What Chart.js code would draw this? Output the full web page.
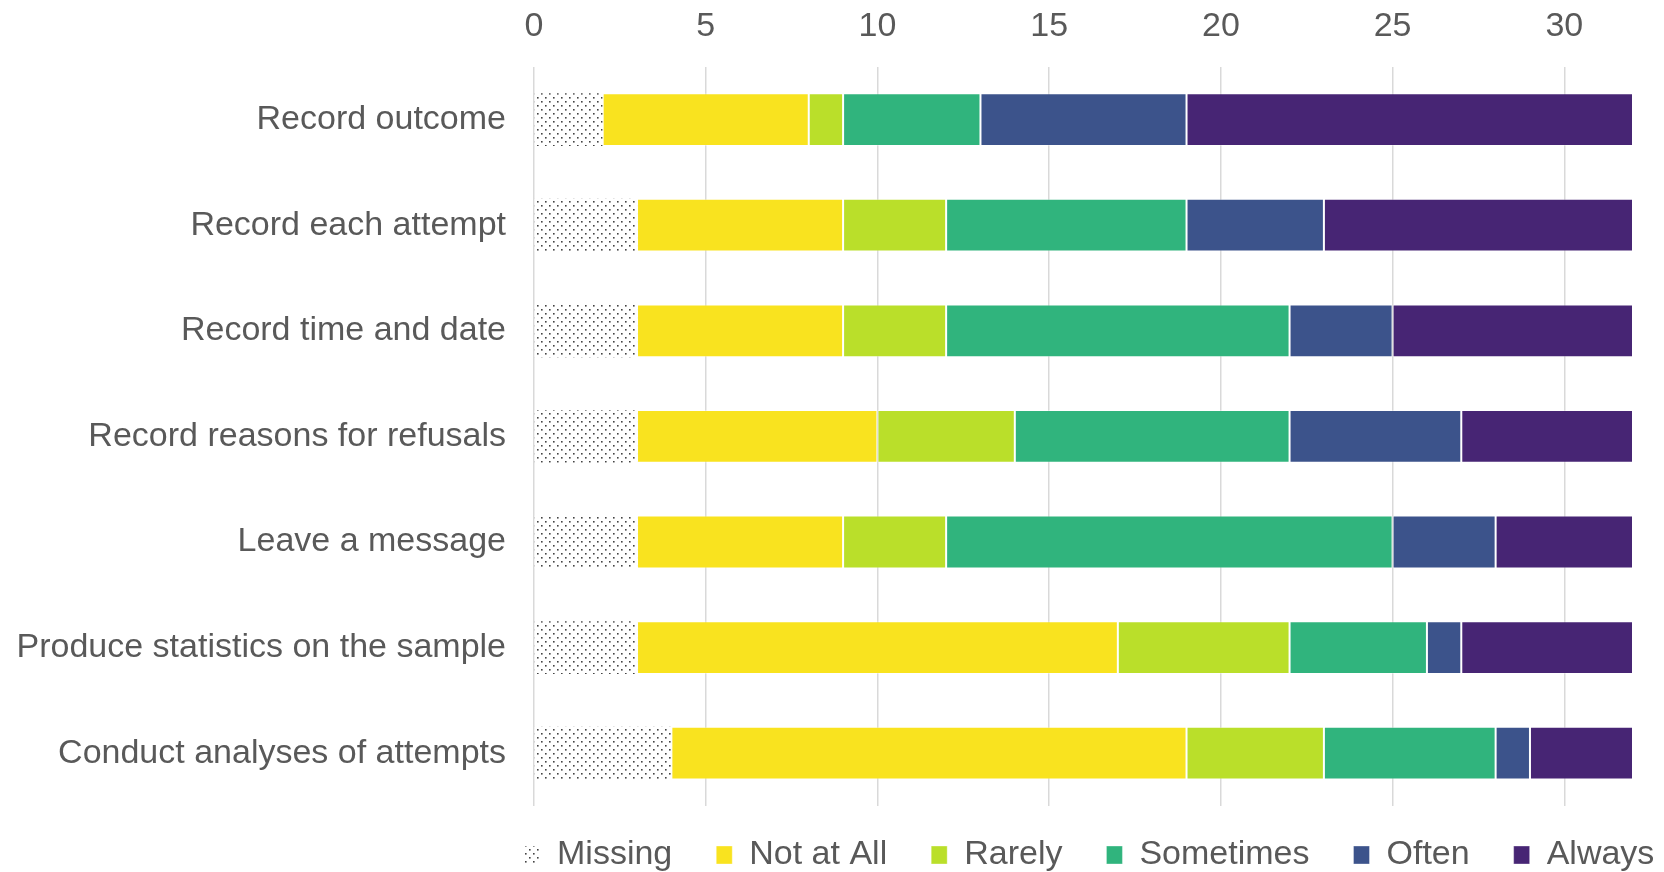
<!doctype html>
<html lang="en">
  <head>
    <meta charset="UTF-8" />
    <title>Call attempt recording</title>
    <script src="https://cdn.jsdelivr.net/npm/chart.js"></script>
    <style>
      body { margin: 0; background: #fff; }
    </style>
  </head>
  <body>
    <canvas id="myChart" width="1664" height="872"></canvas>
    <script>
      const categories = [
        'Record outcome',
        'Record each attempt',
        'Record time and date',
        'Record reasons for refusals',
        'Leave a message',
        'Produce statistics on the sample',
        'Conduct analyses of attempts'
      ]
      const missing = [2, 3, 3, 3, 3, 3, 4]
      const notAtAll = [6, 6, 6, 7, 6, 14, 15]
      const rarely = [1, 3, 3, 4, 3, 5, 4]
      const sometimes = [4, 7, 10, 8, 13, 4, 5]
      const often = [6, 4, 3, 5, 3, 1, 1]
      const always = [13, 9, 7, 5, 4, 5, 3]
      const xTicks = [0, 5, 10, 15, 20, 25, 30]

      const textColor = '#595959'
      const fontFamily = '"Liberation Sans", Arial, sans-serif'
      const fontSize = 34

      const ctx = document.getElementById('myChart').getContext('2d')

      // dotted fill for the "Missing" segment
      const makeDots = () => {
        const c = document.createElement('canvas')
        c.width = 8
        c.height = 8
        const g = c.getContext('2d')
        g.fillStyle = '#fff'
        g.fillRect(0, 0, 8, 8)
        g.fillStyle = '#444'
        g.fillRect(1, 1, 1.6, 1.6)
        g.fillRect(5, 5, 1.6, 1.6)
        return ctx.createPattern(c, 'repeat')
      }
      const dots = makeDots()

      const series = (label, data, color) => ({
        label,
        data,
        backgroundColor: color,
        borderColor: 'rgba(255,255,255,0.35)',
        borderWidth: 1,
        borderSkipped: false
      })

      // put the legend row just under the bars, starting near the plot's left edge
      const legendPlacer = {
        id: 'legendPlacer',
        afterLayout(chart) {
          const lg = chart.legend
          const pad = lg.options.labels.padding
          lg.left = chart.chartArea.left - 10 - pad
          lg.right = chart.width + 200
          lg.width = lg.right - lg.left
          lg.top = chart.chartArea.bottom + 32 - pad
          lg.bottom = chart.height
          lg.height = lg.bottom - lg.top
        }
      }

      const myChart = new Chart(ctx, {
        type: 'bar',
        data: {
          labels: categories,
          datasets: [
            { ...series('Missing', missing, dots), borderWidth: 0 },
            series('Not at All', notAtAll, '#F9E31F'),
            series('Rarely', rarely, '#BADF2A'),
            series('Sometimes', sometimes, '#30B47D'),
            series('Often', often, '#3C538B'),
            series('Always', always, '#472574')
          ]
        },
        plugins: [legendPlacer],
        options: {
          indexAxis: 'y',
          responsive: false,
          animation: false,
          layout: { padding: { left: 15, right: 31, top: 2, bottom: 26 } },
          datasets: { bar: { barPercentage: 0.5, categoryPercentage: 1 } },
          plugins: {
            tooltip: { enabled: false },
            legend: {
              position: 'bottom',
              align: 'start',
              maxHeight: 40,
              labels: {
                color: textColor,
                font: { family: fontFamily, size: fontSize },
                boxWidth: 16,
                boxHeight: 18,
                padding: 44
              }
            }
          },
          scales: {
            x: {
              position: 'top',
              stacked: true,
              min: 0,
              max: 32,
              grid: { color: '#d9d9d9', lineWidth: 1.5, drawTicks: false },
              border: { display: false },
              afterFit: (scale) => {
                scale.height -= 16
              },
              ticks: {
                stepSize: 5,
                includeBounds: false,
                padding: 20,
                color: textColor,
                font: { family: fontFamily, size: fontSize },
                callback: (v) => (xTicks.includes(v) ? v : null)
              }
            },
            y: {
              stacked: true,
              grid: { display: false, drawTicks: false },
              border: { display: false },
              afterFit: (scale) => {
                scale.width = 519
              },
              ticks: {
                padding: 28,
                color: textColor,
                font: { family: fontFamily, size: fontSize }
              }
            }
          }
        }
      })
    </script>
  </body>
</html>
